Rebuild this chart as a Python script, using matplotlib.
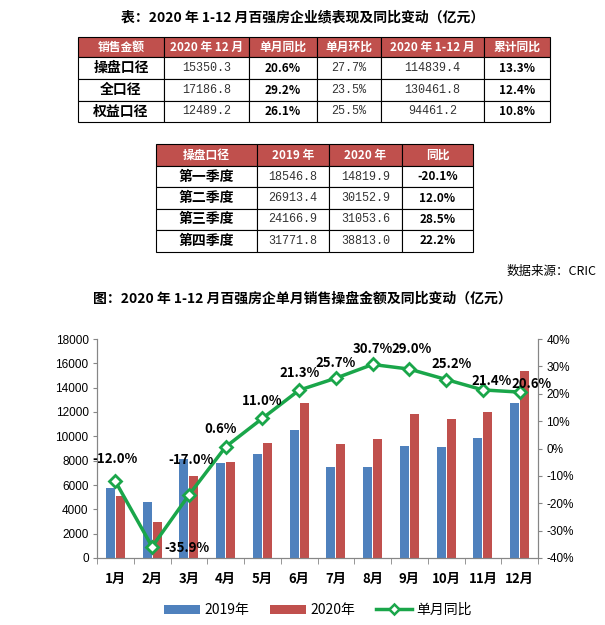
import numpy as np
import matplotlib.pyplot as plt
from matplotlib.patches import Rectangle, Patch
from matplotlib.lines import Line2D

plt.rcParams['font.family'] = ['Noto Sans CJK SC', 'DejaVu Sans']

# ---- data ----
table1_header = ['销售金额', '2020 年 12 月', '单月同比', '单月环比', '2020 年 1-12 月', '累计同比']
table1_rows = [
    ['操盘口径', '15350.3', '20.6%', '27.7%', '114839.4', '13.3%'],
    ['全口径', '17186.8', '29.2%', '23.5%', '130461.8', '12.4%'],
    ['权益口径', '12489.2', '26.1%', '25.5%', '94461.2', '10.8%'],
]
table2_header = ['操盘口径', '2019 年', '2020 年', '同比']
table2_rows = [
    ['第一季度', '18546.8', '14819.9', '-20.1%'],
    ['第二季度', '26913.4', '30152.9', '12.0%'],
    ['第三季度', '24166.9', '31053.6', '28.5%'],
    ['第四季度', '31771.8', '38813.0', '22.2%'],
]
months = ['1月', '2月', '3月', '4月', '5月', '6月', '7月', '8月', '9月', '10月', '11月', '12月']
sales_2019 = [5770, 4615, 8160, 7805, 8546, 10524, 7475, 7475, 9206, 9124, 9865, 12728]
sales_2020 = [5080, 2958, 6773, 7852, 9486, 12766, 9396, 9770, 11876, 11423, 11976, 15350]
yoy = [-12.0, -35.9, -17.0, 0.6, 11.0, 21.3, 25.7, 30.7, 29.0, 25.2, 21.4, 20.6]

W, H = 605, 625
fig = plt.figure(figsize=(W / 100, H / 100), dpi=100)

# canvas axes in pixel coords for tables and titles
bg = fig.add_axes([0, 0, 1, 1])
bg.set_xlim(0, W)
bg.set_ylim(H, 0)
bg.axis('off')

red = '#C0504D'


def draw_table(cols, rows_y, header, rows, bold_cols):
    for i, h in enumerate(header):
        x0, x1 = cols[i], cols[i + 1]
        bg.add_patch(Rectangle((x0, rows_y[0]), x1 - x0, rows_y[1] - rows_y[0],
                               facecolor=red, edgecolor='black', lw=0.8))
        bg.text((x0 + x1) / 2, (rows_y[0] + rows_y[1]) / 2, h, color='white',
                fontsize=8.5, fontweight='bold', ha='center', va='center')
    for r, row in enumerate(rows):
        y0, y1 = rows_y[r + 1], rows_y[r + 2]
        for i, val in enumerate(row):
            x0, x1 = cols[i], cols[i + 1]
            bg.add_patch(Rectangle((x0, y0), x1 - x0, y1 - y0,
                                   facecolor='white', edgecolor='black', lw=0.8))
            if i == 0:
                bg.text((x0 + x1) / 2, (y0 + y1) / 2, val, fontsize=10,
                        fontweight='bold', ha='center', va='center')
            elif i in bold_cols:
                bg.text((x0 + x1) / 2, (y0 + y1) / 2, val, fontsize=8.5,
                        fontweight='bold', ha='center', va='center')
            else:
                bg.text((x0 + x1) / 2, (y0 + y1) / 2, val, fontsize=8.5,
                        color='#333333', ha='center', va='center',
                        family='Liberation Mono')


bg.text(W / 2, 17, '表：2020 年 1-12 月百强房企业绩表现及同比变动（亿元）',
        fontsize=10, fontweight='bold', ha='center', va='center')
draw_table([78, 164, 249, 317, 381, 484, 550], [37, 57, 79, 101, 122],
           table1_header, table1_rows, bold_cols=[2, 5])
draw_table([156, 257, 329, 402, 473], [144, 166, 187, 209, 230, 252],
           table2_header, table2_rows, bold_cols=[3])
bg.text(597, 271, '数据来源：CRIC', fontsize=9, ha='right', va='center')
bg.text(W / 2, 299, '图：2020 年 1-12 月百强房企单月销售操盘金额及同比变动（亿元）',
        fontsize=10, fontweight='bold', ha='center', va='center')

# ---- chart ----
left, right, top, bottom = 97, 538, 339, 558
ax = fig.add_axes([left / W, 1 - bottom / H, (right - left) / W, (bottom - top) / H])
x = np.arange(len(months))
blue = '#4F81BD'
green = '#1AA64A'
ax.bar(x - 0.135, sales_2019, width=0.245, color=blue, label='2019年')
ax.bar(x + 0.135, sales_2020, width=0.245, color=red, label='2020年')
ax.set_xlim(-0.5, 11.5)
ax.set_ylim(0, 18000)
ax.set_yticks(range(0, 18001, 2000))
ax.set_xticks(x)
ax.set_xticklabels(months, fontsize=9.5, fontweight='bold')
ax.set_xticks(np.arange(-0.5, 12, 1), minor=True)
ax.tick_params(axis='x', which='major', length=0, pad=10)
ax.tick_params(axis='x', which='minor', length=4, color='#868686')
ax.tick_params(axis='y', length=3, color='#868686', labelsize=8.5, pad=3)
for lab in ax.get_yticklabels():
    lab.set_family('Liberation Sans')
for s in ['top']:
    ax.spines[s].set_visible(False)
for s in ['left', 'bottom', 'right']:
    ax.spines[s].set_color('#868686')

ax2 = ax.twinx()
ax2.plot(x, yoy, color=green, lw=2.5, marker='D', markersize=6,
         markerfacecolor='white', markeredgecolor=green, markeredgewidth=2, zorder=5)
ax2.set_ylim(-40, 40)
ax2.set_yticks(range(-40, 41, 10))
ax2.set_yticklabels([f'{v}%' for v in range(-40, 41, 10)])
ax2.tick_params(axis='y', length=3, color='#868686', labelsize=8.5, pad=3)
for lab in ax2.get_yticklabels():
    lab.set_family('Liberation Sans')
ax2.spines['top'].set_visible(False)
for s in ['left', 'bottom', 'right']:
    ax2.spines[s].set_color('#868686')

offsets = [(0, 22), (35, -1), (2, 35), (-5, 18), (0, 17), (0, 17),
           (0, 15), (0, 15), (2, 20), (5, 16), (9, 9), (12, 8)]
for xi, v, (dx, dy) in zip(x, yoy, offsets):
    ax2.annotate(f'{v:.1f}%', (xi, v), xytext=(dx, dy), textcoords='offset pixels',
                 ha='center', va='center', fontsize=9.5, fontweight='bold', zorder=6)

handles = [Patch(facecolor=blue, label='2019年'),
           Patch(facecolor=red, label='2020年'),
           Line2D([0], [0], color=green, lw=2.5, marker='D', markersize=5,
                  markerfacecolor='white', markeredgecolor=green, markeredgewidth=1.8,
                  label='单月同比')]
fig.legend(handles=handles, loc='center', bbox_to_anchor=(318 / W, 1 - 610 / H),
           ncol=3, frameon=False, fontsize=10, handlelength=2.6, handleheight=0.6,
           columnspacing=1.5, handletextpad=0.3)

fig.savefig('out.png', dpi=100)
